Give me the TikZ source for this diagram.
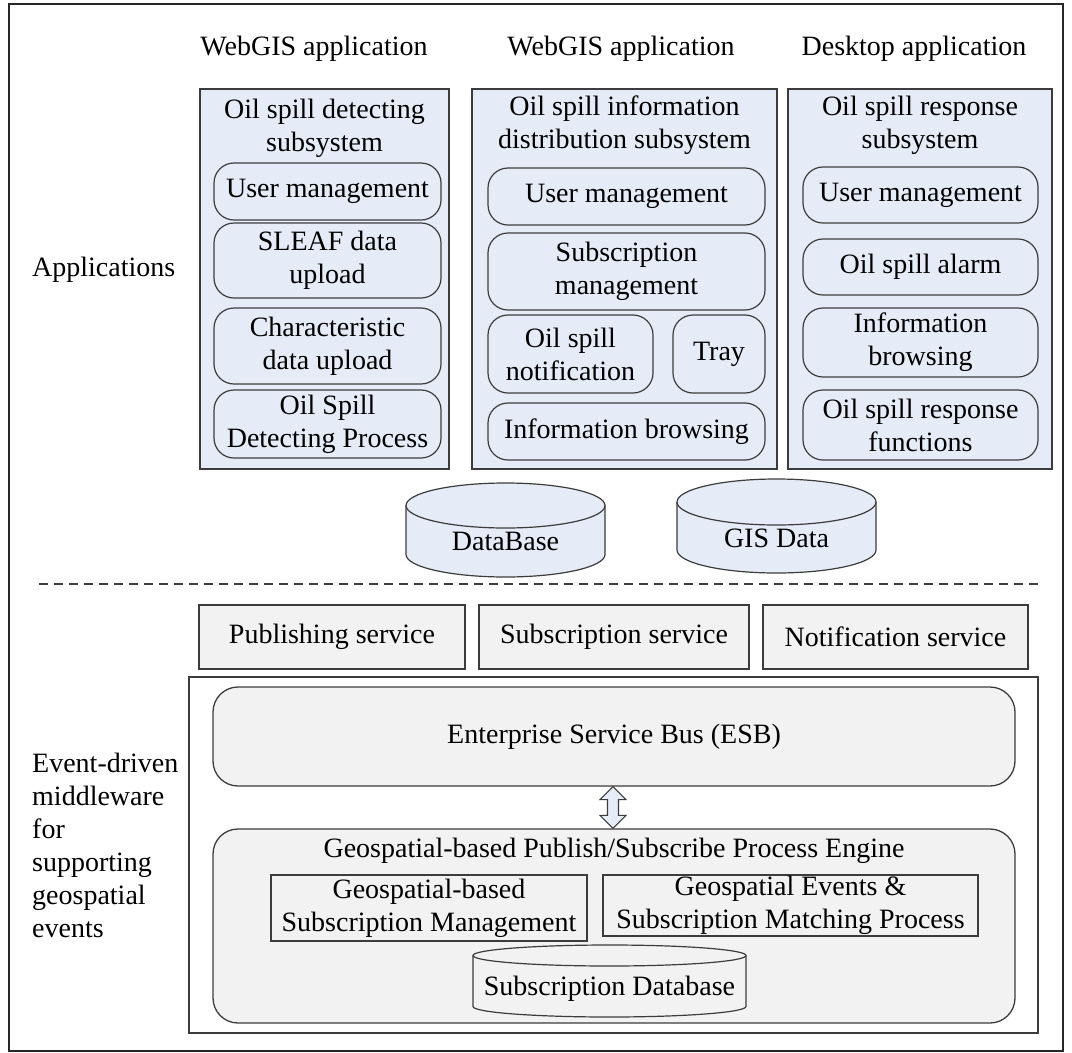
\documentclass[tikz,border=0pt]{standalone}
\usepackage{fontspec}
\setmainfont{Liberation Serif}
\usetikzlibrary{calc}

\definecolor{panelblue}{RGB}{229,236,247}
\definecolor{panelgray}{RGB}{242,242,242}
\definecolor{edge}{RGB}{60,60,60}

% cylinder: #1 left, #2 right, #3 top, #4 bottom, #5 end radius (y), #6 style
\newcommand{\drawcyl}[6]{%
  \pgfmathsetmacro\cylrx{(#2-#1)/2}%
  \filldraw[#6] (#1,#3+#5) -- (#1,#4-#5)
     arc[start angle=180,end angle=360,x radius=\cylrx pt,y radius=#5 pt]
     -- (#2,#3+#5)
     arc[start angle=0,end angle=180,x radius=\cylrx pt,y radius=#5 pt] -- cycle;
  \draw[#6,fill=none] (#1,#3+#5)
     arc[start angle=180,end angle=360,x radius=\cylrx pt,y radius=#5 pt];
}

\tikzset{
  txt/.style={font=\fontsize{28pt}{33pt}\selectfont, inner sep=0pt, align=center},
  sz/.style 2 args={minimum width=#1pt, minimum height=#2pt},
  panel/.style={draw=edge, line width=1.4pt, fill=panelblue, inner sep=0pt},
  item/.style={txt, draw=edge, line width=1.2pt, rounded corners=20pt},
  svc/.style={txt, draw=edge, line width=1.3pt, fill=panelgray},
  bus/.style={txt, draw=edge, line width=1.3pt, fill=panelgray, rounded corners=25pt},
  plainbox/.style={txt, draw=edge, line width=1.2pt},
  bluecyl/.style={draw=edge, line width=1.2pt, fill=panelblue},
  graycyl/.style={draw=edge, line width=1.2pt, fill=panelgray},
  frame/.style={draw=black!85, line width=1.8pt},
}

\begin{document}
\begin{tikzpicture}[x=1pt,y=-1pt]
\useasboundingbox (0,0) rectangle (1072,1053);
\draw[frame] (9,4) rectangle (1063,1051);

% ---- application layer ----
\node[txt] (h1) at (314,49) {WebGIS application};
\node[txt] (h2) at (621,49) {WebGIS application};
\node[txt] (h3) at (914,49) {Desktop application};
\node[txt, anchor=west] (applab) at (32,270) {Applications};

% detecting subsystem
\node[panel, sz={249}{380}] (p1) at (324.5,279) {};
\node[txt] (p1t) at (324.5,128) {Oil spill detecting\\subsystem};
\node[item, sz={227}{57}] (p1a) at (327.5,191.5) {User management};
\node[item, sz={227}{75}] (p1b) at (327.5,260.5) {SLEAF data\\upload};
\node[item, sz={227}{76}] (p1c) at (327.5,346) {Characteristic\\data upload};
\node[item, sz={227}{68}] (p1d) at (327.5,424) {Oil Spill\\Detecting Process};

% distribution subsystem
\node[panel, sz={305}{380}] (p2) at (624.5,279) {};
\node[txt] (p2t) at (624.5,125) {Oil spill information\\distribution subsystem};
\node[item, sz={277}{57}] (p2a) at (626.5,196.5) {User management};
\node[item, sz={277}{77}] (p2b) at (626.5,271.5) {Subscription\\management};
\node[item, sz={165}{78}] (p2c) at (570.5,354) {Oil spill\\notification};
\node[item, sz={92}{78}] (p2d) at (719,354) {Tray};
\node[item, sz={277}{57}] (p2e) at (626.5,431.5) {Information browsing};

% response subsystem
\node[panel, sz={264}{380}] (p3) at (920,279) {};
\node[txt] (p3t) at (920,125) {Oil spill response\\subsystem};
\node[item, sz={235}{56}] (p3a) at (920.5,195) {User management};
\node[item, sz={235}{56}] (p3b) at (920.5,267) {Oil spill alarm};
\node[item, sz={235}{69}] (p3c) at (920.5,342.5) {Information\\browsing};
\node[item, sz={235}{70}] (p3d) at (920.5,425) {Oil spill response\\functions};

% data stores
\drawcyl{406}{605}{483}{577}{22.5}{bluecyl}
\node[txt] (db) at (505.5,541) {DataBase};
\drawcyl{677}{876}{479}{573}{23}{bluecyl}
\node[txt] (gis) at (776.5,538) {GIS Data};

% layer separator
\draw[edge, line width=1.2pt, dash pattern=on 9pt off 6pt] (39,584) -- (1040,584);

% ---- middleware layer ----
\node[svc, sz={266}{64}] (pub) at (332,637) {Publishing service};
\node[svc, sz={270}{64}] (sub) at (614,637) {Subscription service};
\node[svc, sz={265}{64}] (ntf) at (895.5,637) {Notification service};

\node[draw=edge, line width=1.3pt, fill=white, sz={849}{356}, inner sep=0pt] (mw) at (613.5,855) {};
\node[txt, anchor=west, align=left] (mwlab) at (32,845)
  {Event-driven\\middleware\\for\\supporting\\geospatial\\events};

\node[bus, sz={802}{99}] (esb) at (614,736.5) {Enterprise Service Bus (ESB)};
\node[bus, sz={802}{194}] (eng) at (614,926) {};
\node[txt] (engt) at (614,851) {Geospatial-based Publish/Subscribe Process Engine};
\node[plainbox, sz={316}{66}] (sm) at (429,908) {Geospatial-based\\Subscription Management};
\node[plainbox, sz={375}{61}] (mp) at (790.5,905.5) {Geospatial Events \&\\Subscription Matching Process};
\drawcyl{473}{746}{945}{1017}{10.5}{graycyl}
\node[txt] (sdb) at (609.5,989) {Subscription Database};

% two-way link between bus and engine
\coordinate (aT) at (esb.south -| 613,0);
\coordinate (aB) at (eng.north -| 613,0);
\filldraw[draw=edge, line width=1.1pt, fill=panelblue]
  (aT) -- ($(aT)+(13,13)$) -- ($(aT)+(5.5,13)$) -- ($(aB)+(5.5,-13)$)
  -- ($(aB)+(13,-13)$) -- (aB) -- ($(aB)+(-13,-13)$) -- ($(aB)+(-5.5,-13)$)
  -- ($(aT)+(-5.5,13)$) -- ($(aT)+(-13,13)$) -- cycle;
\end{tikzpicture}
\end{document}
